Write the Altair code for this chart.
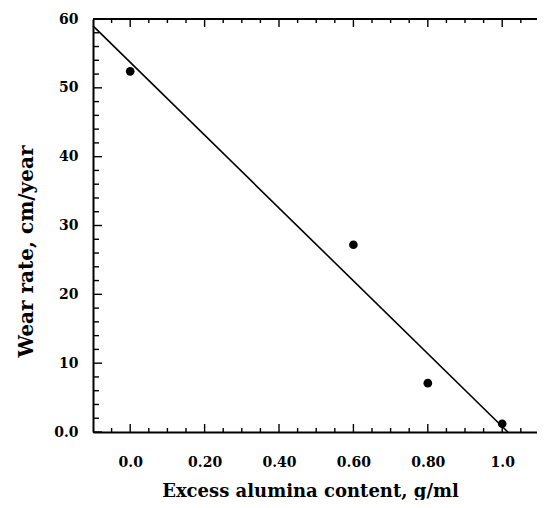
import altair as alt
import pandas as pd

# ---- data ----
alumina = [0.0, 0.6, 0.8, 1.0]          # g/ml
wear = [52.4, 27.2, 7.1, 1.2]           # cm/year
fit_x = [-0.1, 1.015]                   # fitted line end points
fit_y = [59.0, 0.0]

x_major = [0, 0.2, 0.4, 0.6, 0.8, 1]
x_labels = ["0.0", "0.20", "0.40", "0.60", "0.80", "1.0"]
x_minor = [-0.05, 0.05, 0.1, 0.15, 0.25, 0.3, 0.35, 0.45, 0.5, 0.55,
           0.65, 0.7, 0.75, 0.85, 0.9, 0.95, 1.05]
y_major = [0, 10, 20, 30, 40, 50, 60]
y_labels = ["0.0", "10", "20", "30", "40", "50", "60"]
y_minor = [2, 4, 6, 8, 12, 14, 16, 18, 22, 24, 26, 28, 32, 34, 36, 38,
           42, 44, 46, 48, 52, 54, 56, 58]

W, H = 444, 413
FONT = "DejaVu Serif"


def label_expr(vals, labels):
    v = ",".join(str(x) for x in vals)
    l = ",".join(f"'{s}'" for s in labels)
    return f"[{l}][indexof([{v}], datum.value)]"


xscale = alt.Scale(domain=[-0.1, 1.0935], nice=False, zero=False)
yscale = alt.Scale(domain=[0, 60], nice=False, zero=False)

xaxis = alt.Axis(
    values=x_major, labelExpr=label_expr(x_major, x_labels),
    ticks=False, tickSize=0, grid=False,
    domainColor="black", domainWidth=2,
    labelFont=FONT, labelFontSize=14, labelFontWeight="bold", labelColor="black",
    labelPadding=23, labelFlush=False, labelOverlap=False, labelBaseline="top",
    title="Excess alumina content, g/ml",
    titleFont=FONT, titleFontSize=18, titleFontWeight="bold", titleColor="black",
    titleX=217, titleY=64, titleAlign="center", titleBaseline="alphabetic",
)
yaxis = alt.Axis(
    values=y_major, labelExpr=label_expr(y_major, y_labels),
    ticks=False, tickSize=0, grid=False,
    domainColor="black", domainWidth=2,
    labelFont=FONT, labelFontSize=14, labelFontWeight="bold", labelColor="black",
    labelPadding=15, labelFlush=False, labelOverlap=False, labelBaseline="middle",
    title="Wear rate, cm/year",
    titleFont=FONT, titleFontSize=20, titleFontWeight="bold", titleColor="black",
    titleAngle=270, titleX=-61, titleY=232, titleAlign="center", titleBaseline="alphabetic",
)

pts_df = pd.DataFrame({"x": alumina, "y": wear})
fit_df = pd.DataFrame({"x": fit_x, "y": fit_y})

points = alt.Chart(pts_df).mark_circle(size=75, color="black", opacity=1).encode(
    x=alt.X("x:Q", scale=xscale, axis=xaxis),
    y=alt.Y("y:Q", scale=yscale, axis=yaxis),
)
line = alt.Chart(fit_df).mark_line(color="black", strokeWidth=1.6).encode(
    x=alt.X("x:Q", scale=xscale, axis=xaxis),
    y=alt.Y("y:Q", scale=yscale, axis=yaxis),
)


def xticks(vals, y0, y1):
    return alt.Chart(pd.DataFrame({"x": vals})).mark_rule(color="black", strokeWidth=1.4).encode(
        x=alt.X("x:Q", scale=xscale, axis=xaxis),
        y=alt.value(y0), y2=alt.value(y1),
    )


def yticks(vals, length):
    return alt.Chart(pd.DataFrame({"y": vals})).mark_rule(color="black", strokeWidth=1.4).encode(
        y=alt.Y("y:Q", scale=yscale, axis=yaxis),
        x=alt.value(0), x2=alt.value(length),
    )


top_border = alt.Chart(pd.DataFrame({"a": [0]})).mark_rule(color="black", strokeWidth=2).encode(
    x=alt.value(0), x2=alt.value(W), y=alt.value(0)
)

chart = alt.layer(
    points,
    line,
    xticks(x_major, H, H - 8),
    xticks(x_minor, H, H - 4),
    xticks(x_major, 0, 8),
    xticks(x_minor, 0, 4),
    yticks(y_major, 9),
    yticks(y_minor, 6),
    top_border,
).properties(
    width=W, height=H,
    autosize=alt.AutoSizeParams(type="none"),
    padding={"left": 85, "top": 11, "right": 0, "bottom": 68},
).configure_view(stroke=None)

chart.save("out.html", embed_options={"renderer": "svg", "actions": False})
